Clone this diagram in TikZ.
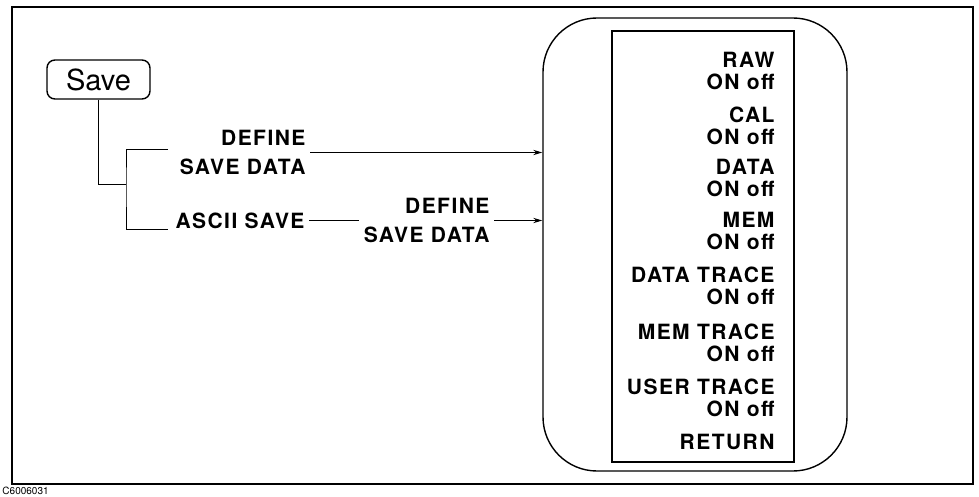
\documentclass[tikz,border=0pt]{standalone}
\usepackage{fontspec}
\setmainfont{TeX Gyre Heros}
\newfontfamily\keyfont[LetterSpace=7]{TeX Gyre Heros}
\usepackage{tikz}
\usetikzlibrary{arrows.meta,positioning}

\begin{document}
\begin{tikzpicture}[x=0.5pt,y=-0.5pt,>={Stealth[length=4.5pt,width=2.6pt]},line width=0.5pt]
\tikzstyle{lbl}=[align=right,inner sep=2pt,font=\fontsize{10.5}{14.5}\selectfont\keyfont\bfseries]
\tikzstyle{soft}=[align=right,inner sep=2pt,font=\fontsize{10.5}{11}\selectfont\keyfont\bfseries]
\useasboundingbox (0,0) rectangle (979,497);
\draw[line width=1pt] (12,7) rectangle (973,484);
\node[draw,rounded corners=4pt,line width=0.7pt,minimum width=51.5pt,minimum height=19.5pt,inner sep=0pt,font=\fontsize{14.5}{16}\selectfont] (s) at (98.5,79.5) {Save};
\node[draw,rounded corners=27pt,line width=0.7pt,minimum width=152pt,minimum height=226.5pt,inner sep=0pt] (p) at (695,244.5) {};
\node[draw,line width=0.6pt,minimum width=91pt,minimum height=215.5pt,inner sep=0pt] (m) at (703,246.5) {};
\node[lbl,anchor=east] (d1) at (310,152.5) {DEFINE\\SAVE DATA};
\node[lbl,anchor=east] (a) at (309,221) {ASCII SAVE};
\node[lbl,anchor=east] (d2) at (494,220.5) {DEFINE\\SAVE DATA};
% softkey menu
\foreach \n/\t/\y in {raw/RAW/71,cal/CAL/126,dat/DATA/177.5,mem/MEM/231,dtr/DATA TRACE/285.5,mtr/MEM TRACE/342.5,utr/USER TRACE/397.5}
  \node[soft,anchor=east] (\n) at (779,\y) {\t\\ON off};
\node[soft,anchor=east] (ret) at (779,442) {RETURN};
\coordinate (j) at (126,185);
\coordinate (t1) at (168,150);
\coordinate (t2) at (168,230);
\draw (s.south) |- (j);
\draw (t1) -| (j) |- (t2);
\draw[->] (d1.east) -- (d1.east -| p.west);
\draw (a.east) -- (a.east -| d2.west);
\draw[->] (d2.east) -- (d2.east -| p.west);
\node[anchor=west,inner sep=0pt,font=\fontsize{5}{6}\selectfont] (id) at (2,491) {C6006031};
\end{tikzpicture}
\end{document}
